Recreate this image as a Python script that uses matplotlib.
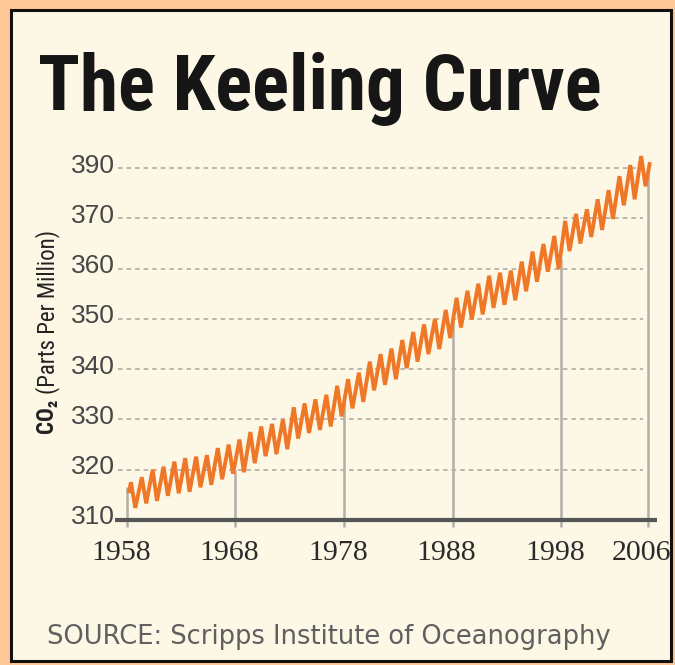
import numpy as np
import matplotlib
matplotlib.use('Agg')
import matplotlib.pyplot as plt
from matplotlib import font_manager
from matplotlib.patches import Rectangle
from matplotlib.transforms import ScaledTranslation

# Mauna Loa CO2: one spring peak and one autumn low per year
peak_years = list(range(1958, 2006))
peak_ppm = [317.5, 318.5, 320.0, 320.6, 321.6, 322.3, 322.6, 322.9, 324.3, 325.0,
            326.0, 327.5, 328.6, 329.1, 330.0, 332.4, 333.2, 334.0, 334.9, 336.7,
            338.0, 339.3, 341.5, 343.0, 344.1, 345.8, 347.4, 348.9, 350.0, 351.8,
            354.2, 355.6, 357.0, 358.6, 359.2, 359.6, 361.4, 363.4, 364.9, 366.5,
            369.5, 370.9, 371.8, 373.8, 375.6, 378.4, 380.6, 382.4]
low_ppm = [312.4, 313.3, 313.8, 314.8, 315.3, 315.6, 316.5, 317.0, 318.1, 319.2,
           319.5, 321.3, 322.7, 323.1, 324.1, 326.2, 327.3, 327.9, 328.6, 330.6,
           332.2, 333.5, 335.8, 336.9, 338.0, 340.2, 341.5, 343.0, 344.0, 346.2,
           348.3, 349.9, 350.9, 352.2, 352.8, 353.7, 355.5, 357.4, 359.4, 359.9,
           363.5, 365.0, 366.3, 367.7, 369.9, 372.6, 373.8, 376.4]
first_point = (1958.2, 315.7)
last_point = (2006.15, 380.8)

# grey drop lines under the x tick years
tick_years = [1958, 1968, 1978, 1988, 1998, 2006]
drop_tops = [316.5, 320.0, 333.5, 349.5, 362.0, 380.0]

y_ticks = [310, 320, 330, 340, 350, 360, 370, 380]
y_tick_labels = ['310', '320', '330', '340', '350', '360', '370', '390']  # as printed

# fonts: use a narrow face if one is there, else condensed DejaVu
names = set(f.name for f in font_manager.fontManager.ttflist)
narrow = 'DejaVu Sans'
for cand in ['Liberation Sans Narrow', 'Roboto Condensed', 'Open Sans Condensed']:
    if cand in names:
        narrow = cand
        break

W, H = 675, 665
fig = plt.figure(figsize=(W / 100, H / 100), dpi=100, facecolor='#FDC896')

# cream panel with black frame
fig.patches.append(Rectangle((11 / W, 4 / H), 660 / W, 651.5 / H,
                             transform=fig.transFigure, facecolor='#FDF7E6',
                             edgecolor='#111111', linewidth=2.2, zorder=-5))

ax = fig.add_axes([115 / W, 1 - 527.5 / H, 542 / W, (527.5 - 143) / H])
ax.set_facecolor('none')
for s in ax.spines.values():
    s.set_visible(False)
ax.set_xlim(1956.9, 2006.83)
ax.set_ylim(308.5, 385)

# build the zig-zag: peak around May, low around October
xs = [first_point[0]]
ys = [first_point[1]]
for yr, hi, lo in zip(peak_years, peak_ppm, low_ppm):
    xs += [yr + 0.37, yr + 0.77]
    ys += [hi, lo]
xs.append(last_point[0])
ys.append(last_point[1])

# dashed grid lines (310 is the axis itself)
ax.hlines(y_ticks[1:], 1957.17, 2005.56, colors='#A9A6A0', linewidth=1.1,
          linestyles=(0, (3.0, 2.6)), zorder=1)
ax.vlines(tick_years, 308.5, drop_tops, colors='#B2AEA8', linewidth=1.8, zorder=1)
ax.axhline(310, color='#555555', linewidth=3.0, zorder=3)
ax.plot(xs, ys, color='#EF7828', linewidth=2.8, solid_joinstyle='miter', zorder=2)

ax.set_xticks(tick_years)
ax.set_xticklabels([str(y) for y in tick_years], family='Liberation Serif',
                   fontsize=21.5, color='#2b2b2b')
ax.set_yticks(y_ticks)
ax.set_yticklabels(y_tick_labels, family='Liberation Sans', fontsize=19, color='#474747')
ax.tick_params(axis='x', length=0, pad=9)
ax.tick_params(axis='y', length=0, pad=0)
for lab in ax.get_xticklabels():
    lab.set_transform(lab.get_transform() + ScaledTranslation(-0.06, 0, fig.dpi_scale_trans))
for lab in ax.get_yticklabels():
    lab.set_transform(lab.get_transform() + ScaledTranslation(0, 0.05, fig.dpi_scale_trans))

# y axis title: bold CO2 then the plain part, joined at one point
split_y = 1 - 394 / H
fig.text(48 / W, split_y, 'CO\u2082 ', family=narrow, fontstretch='condensed',
         fontweight='bold', fontsize=16.5, color='#222222', rotation=90,
         rotation_mode='anchor', ha='right', va='center')
fig.text(48 / W, split_y, '(Parts Per Million)', family=narrow, fontstretch='condensed',
         fontsize=16.5, color='#222222', rotation=90,
         rotation_mode='anchor', ha='left', va='center')

# big title, shrink it if it runs wider than the original
title = fig.text(38 / W, 1 - 110 / H, 'The Keeling Curve', family=narrow,
                 fontstretch='condensed', fontweight='bold', fontsize=55.5,
                 color='#161616', va='baseline', ha='left')
fig.canvas.draw()
tw = title.get_window_extent().width
if tw > 580:
    title.set_fontsize(55.5 * 570 / tw)

fig.text(47 / W, 1 - 644 / H, 'SOURCE: Scripps Institute of Oceanography',
         family='DejaVu Sans', fontsize=18.5, color='#606060', va='baseline')

fig.savefig('out.png', dpi=100, facecolor=fig.get_facecolor())
